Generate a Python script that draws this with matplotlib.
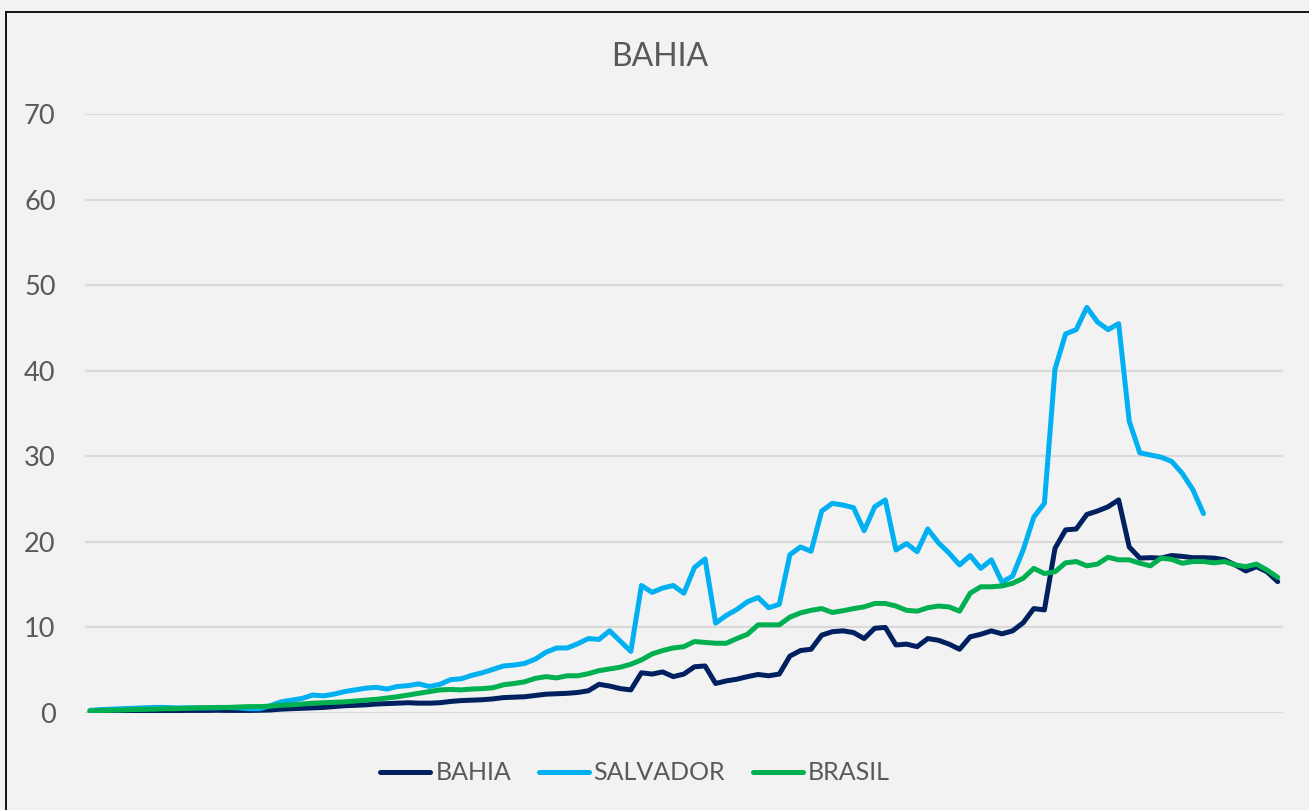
import matplotlib
matplotlib.use("Agg")
import matplotlib.pyplot as plt
import numpy as np
from matplotlib.lines import Line2D

plt.rcParams['font.family'] = ['Lato', 'DejaVu Sans']

title = "BAHIA"
series_names = ["BAHIA", "SALVADOR", "BRASIL"]
y_ticks = [0, 10, 20, 30, 40, 50, 60, 70]

bahia = [0.15, 0.15, 0.18, 0.2, 0.2, 0.22, 0.25, 0.25, 0.28, 0.3, 0.3, 0.3, 0.32, 0.3, 0.3, 0.3, 0.32, 0.35,
         0.45, 0.5, 0.55, 0.6, 0.65, 0.75, 0.85, 0.9, 0.95, 1.05, 1.1, 1.15, 1.2, 1.15, 1.15, 1.2, 1.35, 1.45,
         1.5, 1.55, 1.65, 1.8, 1.85, 1.9, 2.05, 2.2, 2.25, 2.3, 2.4, 2.6, 3.35, 3.15, 2.85, 2.7,
         4.7, 4.55, 4.8, 4.25, 4.55, 5.4, 5.5, 3.45, 3.75, 3.95, 4.25, 4.5, 4.35, 4.55,
         6.65, 7.3, 7.45, 9.1, 9.5, 9.6, 9.4, 8.7, 9.9, 10.0, 7.95, 8.05, 7.75, 8.7, 8.5,
         8.05, 7.45, 8.9, 9.2, 9.6, 9.25, 9.6, 10.55, 12.2, 12.05,
         19.25, 21.4, 21.5, 23.2, 23.6, 24.1, 24.9, 19.4, 18.1, 18.15, 18.1, 18.4, 18.3, 18.15,
         18.15, 18.1, 17.9, 17.3, 16.6, 17.1, 16.5, 15.35]

salvador = [0.3, 0.4, 0.45, 0.5, 0.55, 0.6, 0.65, 0.65, 0.6, 0.6, 0.6, 0.6, 0.6, 0.65, 0.6, 0.5, 0.5, 0.85,
            1.3, 1.5, 1.7, 2.1, 2.0, 2.2, 2.5, 2.7, 2.9, 3.0, 2.8, 3.1, 3.2, 3.4, 3.1, 3.35, 3.9, 4.0,
            4.4, 4.7, 5.1, 5.5, 5.6, 5.8, 6.3, 7.1, 7.6, 7.6, 8.1, 8.7, 8.6, 9.6, 8.4, 7.2,
            14.9, 14.1, 14.6, 14.9, 14.0, 17.0, 18.0, 10.5, 11.4, 12.1, 13.0, 13.5, 12.3, 12.7,
            18.5, 19.4, 18.9, 23.6, 24.5, 24.3, 24.0, 21.3, 24.1, 24.9, 19.05, 19.8, 18.85, 21.5, 19.9,
            18.7, 17.3, 18.4, 16.9, 17.9, 15.3, 16.0, 19.05, 22.9, 24.5,
            40.2, 44.3, 44.8, 47.4, 45.7, 44.8, 45.5, 34.1, 30.4, 30.15, 29.9, 29.4, 28.0, 26.1,
            23.3, None, None, None, None, None, None, None]

brasil = [0.25, 0.3, 0.32, 0.35, 0.4, 0.42, 0.45, 0.5, 0.5, 0.55, 0.6, 0.62, 0.65, 0.65, 0.7, 0.75, 0.75, 0.8,
          0.9, 0.95, 1.05, 1.15, 1.2, 1.25, 1.3, 1.4, 1.5, 1.6, 1.75, 1.9, 2.1, 2.3, 2.5, 2.7, 2.75, 2.7,
          2.8, 2.85, 2.95, 3.3, 3.45, 3.65, 4.05, 4.25, 4.1, 4.35, 4.35, 4.6, 4.95, 5.15, 5.35, 5.7,
          6.2, 6.9, 7.3, 7.6, 7.75, 8.35, 8.25, 8.15, 8.15, 8.7, 9.2, 10.3, 10.3, 10.3,
          11.2, 11.7, 12.0, 12.2, 11.75, 11.95, 12.2, 12.4, 12.8, 12.8, 12.5, 12.0, 11.9, 12.3, 12.5,
          12.4, 11.9, 14.0, 14.75, 14.75, 14.85, 15.15, 15.75, 16.9, 16.3,
          16.5, 17.55, 17.7, 17.2, 17.4, 18.2, 17.9, 17.9, 17.5, 17.2, 18.1, 17.95, 17.5, 17.7,
          17.7, 17.55, 17.7, 17.3, 17.1, 17.4, 16.7, 15.85]

colors = ["#002060", "#00B0F0", "#00B050"]
text_color = "#595959"

W, H = 1309, 810
fig = plt.figure(figsize=(W / 100, H / 100), dpi=100)
fig.patch.set_facecolor("#F2F2F2")

# chart border (left and top visible)
fig.add_artist(Line2D([6 / W, 6 / W], [0, 1 - 12 / H], transform=fig.transFigure, color="black", lw=1.3))
fig.add_artist(Line2D([6 / W, 1], [1 - 12 / H, 1 - 12 / H], transform=fig.transFigure, color="black", lw=1.3))

left, right = 84.7 / W, 1283 / W
bottom, top = 1 - 713 / H, 1 - 114 / H
ax = fig.add_axes([left, bottom, right - left, top - bottom])
ax.set_facecolor("#F2F2F2")

n = len(bahia)
x = np.arange(n)
data = [bahia, salvador, brasil]
for name, vals, c in zip(series_names, data, colors):
    v = np.array([np.nan if t is None else t for t in vals], dtype=float)
    ax.plot(x, v, color=c, lw=3.6, label=name, solid_joinstyle="round", solid_capstyle="round", zorder=3)

ax.set_xlim(-0.5, n - 0.5)
ax.set_ylim(0, 70)
ax.set_yticks(y_ticks)
ax.set_yticklabels([str(t) for t in y_ticks])
ax.set_xticks([])
ax.grid(axis="y", color="#D9D9D9", lw=1.5, zorder=0)
ax.set_axisbelow(True)
for s in ax.spines.values():
    s.set_visible(False)
ax.tick_params(axis="y", length=0, pad=21, labelsize=19.5, labelcolor=text_color)

fig.text(660 / W, 1 - 57 / H, title, ha="center", va="center", fontsize=23, color=text_color)

leg = fig.legend(loc="center", bbox_to_anchor=(635 / W, 1 - 773 / H), ncol=3, frameon=False,
                 fontsize=18, handlelength=2.0, handletextpad=0.2, columnspacing=1.1,
                 labelcolor=text_color)
for h in leg.legend_handles:
    h.set_linewidth(3.6)
    h.set_solid_capstyle("round")

fig.savefig("out.png", dpi=100, facecolor=fig.get_facecolor())
